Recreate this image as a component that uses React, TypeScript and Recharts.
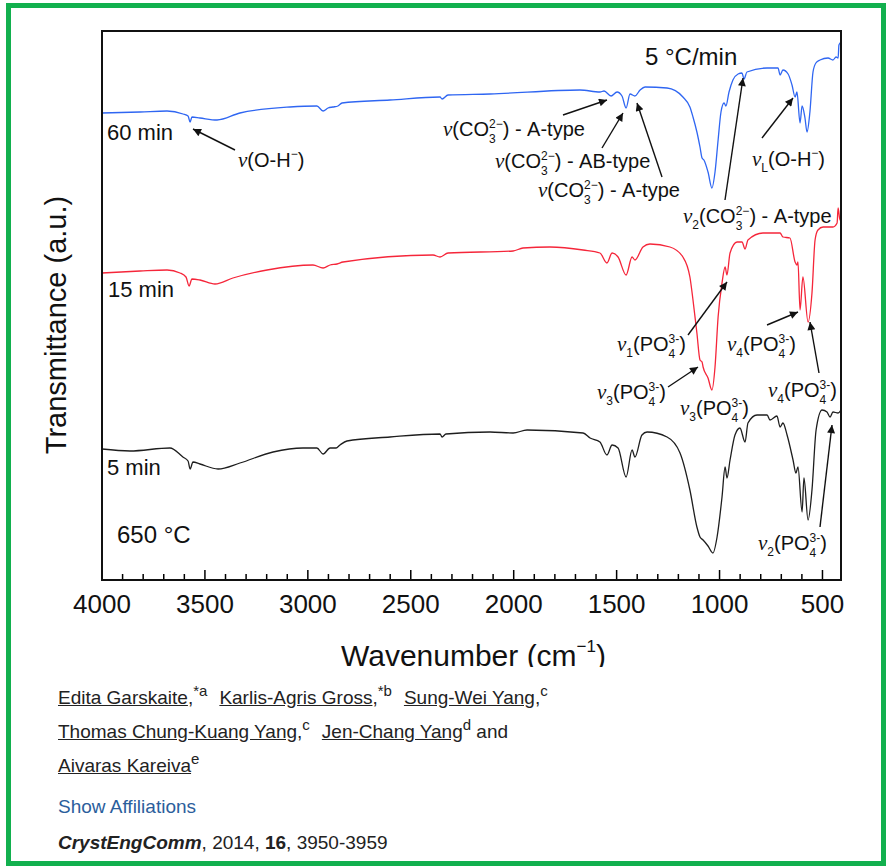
import React from "react";
import { LineChart, Line, XAxis, YAxis } from "recharts";

// FTIR spectra, [wavenumber cm-1, transmittance a.u. (offset per curve)]
const SPECTRUM_60MIN: [number, number][] = [
  [4000, 46.7], [3815, 46.8], [3684, 46.9], [3606, 46.6], [3582, 46.4], [3572, 45.8],
  [3563, 46.3], [3524, 46.2], [3441, 46.0], [3330, 46.7], [3087, 47.3], [2956, 47.4],
  [2926, 46.9], [2902, 47.2], [2878, 47.3], [2854, 47.4], [2834, 47.7], [2601, 48.0],
  [2358, 48.3], [2348, 48.1], [2319, 48.5], [2115, 48.6], [1678, 49.0], [1581, 48.8],
  [1561, 48.9], [1527, 48.4], [1498, 48.8], [1474, 48.4], [1454, 47.2], [1435, 48.6],
  [1411, 48.4], [1386, 49.0], [1362, 49.3], [1255, 49.2], [1178, 48.3], [1144, 47.3],
  [1129, 46.3], [1110, 44.8], [1095, 43.3], [1085, 42.2], [1076, 42.0], [1056, 40.8],
  [1037, 39.2], [1022, 40.8], [1007, 44.0], [993, 46.8], [978, 47.7], [969, 47.4],
  [954, 48.8], [935, 50.0], [910, 50.6], [891, 50.7], [881, 50.1], [867, 50.8],
  [769, 51.2], [716, 51.2], [706, 50.5], [692, 51.0], [667, 50.6], [648, 49.5],
  [633, 48.3], [624, 48.8], [609, 45.7], [599, 47.4], [585, 46.2], [575, 44.8],
  [561, 46.8], [546, 50.8], [532, 51.7], [512, 52.0], [473, 52.2], [449, 52.0],
  [434, 52.3], [424, 52.2], [420, 53.5], [410, 53.8],
];

const SPECTRUM_15MIN: [number, number][] = [
  [4000, 30.7], [3815, 30.9], [3684, 31.0], [3621, 30.7], [3592, 30.3], [3577, 29.4],
  [3563, 30.1], [3524, 30.0], [3451, 29.6], [3364, 30.2], [3198, 31.0], [2975, 31.5],
  [2926, 31.2], [2892, 31.5], [2858, 31.6], [2829, 31.8], [2392, 32.5], [2358, 32.3],
  [2319, 32.7], [2003, 32.9], [1955, 33.2], [1824, 33.3], [1663, 33.0], [1581, 32.7],
  [1547, 31.7], [1522, 32.7], [1493, 32.3], [1454, 30.5], [1425, 32.3], [1411, 32.0],
  [1372, 33.3], [1338, 33.6], [1241, 33.3], [1178, 32.3], [1144, 30.3], [1129, 28.0],
  [1110, 24.7], [1095, 22.0], [1085, 21.8], [1080, 21.3], [1056, 20.2], [1037, 19.0],
  [1022, 21.3], [1007, 26.3], [988, 29.7], [973, 31.3], [964, 30.5], [949, 32.7],
  [915, 33.8], [891, 33.8], [876, 33.1], [862, 34.0], [789, 34.7], [706, 34.7],
  [692, 34.3], [658, 34.2], [633, 31.8], [624, 31.5], [619, 31.8], [609, 27.0],
  [595, 30.3], [570, 25.8], [551, 28.7], [536, 34.0], [522, 35.0], [497, 35.3],
  [449, 35.3], [429, 35.7], [424, 37.2], [415, 36.0], [410, 36.2],
];

const SPECTRUM_5MIN: [number, number][] = [
  [4000, 13.1], [3864, 12.9], [3670, 13.2], [3607, 12.3], [3582, 11.9], [3572, 11.1],
  [3558, 11.8], [3524, 11.6], [3436, 11.1], [3330, 11.7], [3169, 12.8], [3024, 13.2],
  [2956, 13.2], [2926, 12.6], [2892, 13.2], [2863, 13.2], [2844, 13.5], [2810, 13.9],
  [2601, 14.3], [2358, 14.6], [2348, 14.3], [2329, 14.6], [2115, 14.8], [2003, 14.7],
  [1935, 15.0], [1663, 14.7], [1629, 14.2], [1581, 13.8], [1547, 12.5], [1522, 13.5],
  [1493, 13.2], [1454, 10.3], [1425, 13.0], [1411, 12.3], [1377, 14.5], [1352, 14.8],
  [1255, 14.3], [1192, 12.7], [1144, 9.0], [1110, 5.3], [1095, 4.3], [1080, 4.0],
  [1056, 3.4], [1032, 2.7], [1012, 4.3], [988, 8.3], [973, 11.3], [964, 10.2],
  [949, 12.0], [925, 14.5], [901, 15.2], [876, 13.8], [862, 15.7], [818, 16.5],
  [769, 16.5], [755, 16.0], [721, 16.4], [706, 15.3], [692, 15.7], [672, 14.5],
  [643, 12.0], [629, 10.7], [619, 11.3], [599, 6.8], [590, 10.2], [570, 6.0],
  [551, 9.0], [531, 15.0], [502, 17.0], [478, 16.8], [463, 16.3], [449, 16.8],
  [424, 16.7], [410, 17.0],
];

const X_DOMAIN: [number, number] = [410, 4000];
const Y_DOMAIN: [number, number] = [0, 54.9];
const X_TICKS = Array.from({ length: 36 }, (_, i) => 4000 - i * 100);

const SERIES = [
  { name: "60 min", data: SPECTRUM_60MIN, color: "#2f66f2" },
  { name: "15 min", data: SPECTRUM_15MIN, color: "#f5263a" },
  { name: "5 min", data: SPECTRUM_5MIN, color: "#1e1e1e" },
];

type Part = string | { sub: string } | { sup: string } | { stack: [string, string] } | "nu";

const CO3 = (pre: Part[], type: string): Part[] => ["nu", ...pre, "(CO", { stack: ["3", "2\u2212"] }, ") - " + type];
const PO4 = (n: string): Part[] => ["nu", { sub: n }, "(PO", { stack: ["4", "3-"] }, ")"];

const ANNOTATIONS: { x: number; y: number; parts: Part[]; arrow?: [number, number, number, number] }[] = [
  { x: 238, y: 167, parts: ["nu", "(O-H", { sup: "\u2212" }, ")"], arrow: [235, 150, 193, 129] },
  { x: 443, y: 136, parts: CO3([], "A-type"), arrow: [563, 115, 607, 100] },
  { x: 495, y: 168, parts: CO3([], "AB-type"), arrow: [602, 148, 623, 113] },
  { x: 538, y: 197, parts: CO3([], "A-type"), arrow: [662, 177, 637, 103] },
  { x: 683, y: 223, parts: CO3([{ sub: "2" }], "A-type"), arrow: [725, 200, 743, 78] },
  { x: 752, y: 166, parts: ["nu", { sub: "L" }, "(O-H", { sup: "\u2212" }, ")"], arrow: [762, 138, 793, 98] },
  { x: 617, y: 351, parts: PO4("1"), arrow: [688, 335, 727, 282] },
  { x: 597, y: 399, parts: PO4("3"), arrow: [668, 387, 698, 367] },
  { x: 680, y: 415, parts: PO4("3") },
  { x: 727, y: 351, parts: PO4("4"), arrow: [767, 325, 798, 312] },
  { x: 768, y: 397, parts: PO4("4"), arrow: [819, 373, 810, 322] },
  { x: 758, y: 550, parts: PO4("2"), arrow: [820, 527, 832, 425] },
];

const CURVE_LABELS = [
  { text: "60 min", x: 107, y: 140, size: 22 },
  { text: "15 min", x: 108, y: 297, size: 22 },
  { text: "5 min", x: 107, y: 475, size: 22 },
  { text: "650 \u00B0C", x: 117, y: 543, size: 24 },
  { text: "5 \u00B0C/min", x: 645, y: 65, size: 24 },
];

const AUTHOR_LINES: { name: string; sep: string; sup: string; after?: string }[][] = [
  [
    { name: "Edita Garskaite", sep: ",", sup: "*a" },
    { name: "Karlis-Agris Gross", sep: ",", sup: "*b" },
    { name: "Sung-Wei Yang", sep: ",", sup: "c" },
  ],
  [
    { name: "Thomas Chung-Kuang Yang", sep: ",", sup: "c" },
    { name: "Jen-Chang Yang", sep: "", sup: "d", after: " and" },
  ],
  [{ name: "Aivaras Kareiva", sep: "", sup: "e" }],
];

const FONT = "'Liberation Sans', Arial, Helvetica, sans-serif";
const PLOT = { left: 102, right: 841, top: 31, bottom: 580 };

function WnTick(props: any) {
  const { x, payload } = props;
  const v = payload.value as number;
  const major = v % 500 === 0;
  return (
    <g>
      <line x1={x} x2={x} y1={PLOT.bottom} y2={PLOT.bottom - (major ? 10 : 6)} stroke="#000" strokeWidth={1.5} />
      {major && (
        <text x={x} y={613} textAnchor="middle" fontSize={26} fontFamily={FONT} fill="#111">
          {v}
        </text>
      )}
    </g>
  );
}

function Formula({ x, y, parts }: { x: number; y: number; parts: Part[] }) {
  const main = 20;
  const small = 12;
  const nodes: React.ReactNode[] = [];
  parts.forEach((p, i) => {
    if (p === "nu") {
      nodes.push(
        <tspan key={i} y={y} fontFamily="'Liberation Serif', 'Times New Roman', serif" fontStyle="italic" fontSize={21}>
          {"\u03BD"}
        </tspan>
      );
    } else if (typeof p === "string") {
      nodes.push(<tspan key={i} y={y} fontSize={main}>{p}</tspan>);
    } else if ("sub" in p) {
      nodes.push(<tspan key={i} y={y + 6} fontSize={small}>{p.sub}</tspan>);
    } else if ("sup" in p) {
      nodes.push(<tspan key={i} y={y - 9} fontSize={small}>{p.sup}</tspan>);
    } else {
      nodes.push(<tspan key={i + "a"} y={y + 7} fontSize={small}>{p.stack[0]}</tspan>);
      nodes.push(
        <tspan key={i + "b"} y={y - 8} dx={-small * 0.556} fontSize={small}>
          {p.stack[1]}
        </tspan>
      );
    }
  });
  return (
    <text x={x} y={y} fontFamily={FONT} fill="#111">
      {nodes}
    </text>
  );
}

function Chart() {
  return (
    <LineChart
      width={891}
      height={640}
      margin={{ top: PLOT.top, right: 891 - PLOT.right, bottom: 20, left: PLOT.left }}
    >
      <XAxis
        dataKey="0"
        type="number"
        domain={X_DOMAIN}
        reversed
        allowDataOverflow
        ticks={X_TICKS}
        interval={0}
        height={40}
        axisLine={false}
        tickLine={false}
        tick={(p: any) => <WnTick {...p} />}
      />
      <YAxis hide type="number" domain={Y_DOMAIN} allowDataOverflow />
      {SERIES.map((s) => (
        <Line
          key={s.name}
          data={s.data}
          dataKey="1"
          name={s.name}
          type="monotone"
          stroke={s.color}
          strokeWidth={1.3}
          dot={false}
          isAnimationActive={false}
        />
      ))}
    </LineChart>
  );
}

export default function App() {
  return (
    <div style={{ position: "absolute", left: 0, top: 0, width: 891, height: 868, background: "#fff", fontFamily: FONT }}>
      <div
        style={{
          position: "absolute",
          left: 6,
          top: 3,
          width: 880,
          height: 863,
          border: "5px solid #12b04e",
          boxSizing: "border-box",
        }}
      />
      <div style={{ position: "absolute", left: 0, top: 0 }}>
        <Chart />
      </div>
      <svg width={891} height={680} style={{ position: "absolute", left: 0, top: 0, pointerEvents: "none" }}>
        <defs>
          <marker id="ah" viewBox="0 0 10 10" refX={10} refY={5} markerWidth={12} markerHeight={8} markerUnits="userSpaceOnUse" orient="auto">
            <path d="M0,0 L10,5 L0,10 z" fill="#111" />
          </marker>
          <clipPath id="titleClip">
            <rect x={0} y={0} width={891} height={667} />
          </clipPath>
        </defs>
        <rect
          x={PLOT.left}
          y={PLOT.top}
          width={PLOT.right - PLOT.left}
          height={PLOT.bottom - PLOT.top}
          fill="none"
          stroke="#111"
          strokeWidth={2}
        />
        <text
          x={66}
          y={325}
          transform="rotate(-90 66 325)"
          textAnchor="middle"
          fontSize={29}
          fontFamily={FONT}
          fill="#111"
        >
          Transmittance (a.u.)
        </text>
        <g clipPath="url(#titleClip)">
          <text x={341} y={666} fontSize={30} fontFamily={FONT} fill="#111">
            Wavenumber (cm
            <tspan y={652} fontSize={17}>{"\u22121"}</tspan>
            <tspan y={666}>)</tspan>
          </text>
        </g>
        {CURVE_LABELS.map((l) => (
          <text key={l.text} x={l.x} y={l.y} fontSize={l.size} fontFamily={FONT} fill="#111">
            {l.text}
          </text>
        ))}
        {ANNOTATIONS.map((a, i) => (
          <g key={i}>
            {a.arrow && (
              <line
                x1={a.arrow[0]}
                y1={a.arrow[1]}
                x2={a.arrow[2]}
                y2={a.arrow[3]}
                stroke="#111"
                strokeWidth={1.4}
                markerEnd="url(#ah)"
              />
            )}
            <Formula x={a.x} y={a.y} parts={a.parts} />
          </g>
        ))}
      </svg>
      <div style={{ position: "absolute", left: 58, top: 681, fontSize: 19, lineHeight: "34px", color: "#222" }}>
        {AUTHOR_LINES.map((line, li) => (
          <div key={li} style={{ whiteSpace: "nowrap", height: 34 }}>
            {line.map((a, ai) => (
              <span key={ai} style={{ marginRight: 12 }}>
                <span style={{ textDecoration: "underline" }}>{a.name}</span>
                {a.sep}
                <span style={{ position: "relative", top: -8, fontSize: 15 }}>{a.sup}</span>
                {a.after}
              </span>
            ))}
          </div>
        ))}
      </div>
      <div style={{ position: "absolute", left: 58, top: 795, fontSize: 19, lineHeight: "24px", color: "#2b5e9c" }}>
        Show Affiliations
      </div>
      <div style={{ position: "absolute", left: 58, top: 831, fontSize: 19, lineHeight: "24px", color: "#222" }}>
        <b>
          <i>CrystEngComm</i>
        </b>
        , 2014, <b>16</b>, 3950-3959
      </div>
    </div>
  );
}
